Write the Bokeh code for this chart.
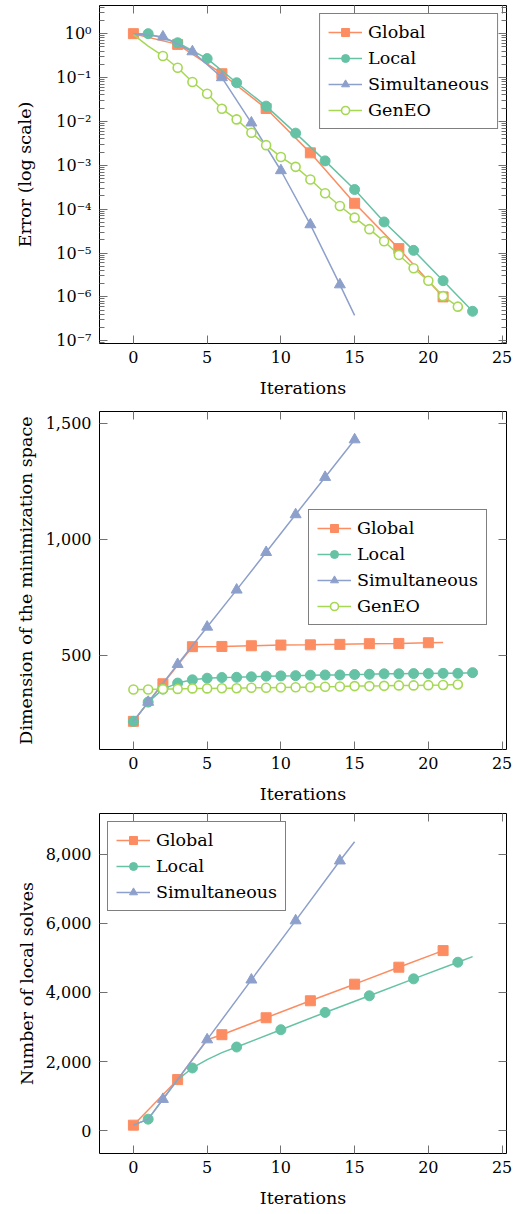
import math
from bokeh.plotting import figure
from bokeh.models import (LinearAxis, LogAxis, FixedTicker, CustomJSTickFormatter,
                          NumeralTickFormatter, Range1d, Legend, LegendItem)
from bokeh.layouts import column
from bokeh.embed import file_html
from bokeh.resources import INLINE

FONT = "DejaVu Serif"
TICK_FS = "16px"
LABEL_FS = "17.5px"
C_GLOBAL = "#fc8d62"
C_LOCAL = "#66c2a5"
C_SIM = "#8da0cb"
C_GENEO = "#a6d854"

# ---------------- Chart 1: error (log scale) ----------------
err_global_it = [0, 3, 6, 9, 12, 15, 18, 21]
err_global = [1.0, 0.57, 0.122, 0.0197, 1.92e-3, 1.36e-4, 1.26e-5, 1.0e-6]
err_global_marks = [0, 3, 6, 9, 12, 15, 18, 21]

err_local_it = [0, 1, 3, 5, 7, 9, 11, 13, 15, 17, 19, 21, 23]
err_local = [1.0, 1.0, 0.62, 0.27, 0.076, 0.0223, 5.4e-3, 1.26e-3, 2.8e-4,
             5.1e-5, 1.15e-5, 2.34e-6, 4.7e-7]
err_local_marks = [1, 3, 5, 7, 9, 11, 13, 15, 17, 19, 21, 23]

err_sim_it = [0, 2, 4, 6, 8, 10, 12, 14, 15]
err_sim = [1.0, 0.85, 0.39, 0.1, 9.3e-3, 7.6e-4, 4.45e-5, 1.9e-6, 3.8e-7]
err_sim_marks = [2, 4, 6, 8, 10, 12, 14]

err_geneo_it = list(range(0, 23))
err_geneo = [0.95, 0.52, 0.31, 0.167, 0.079, 0.0427, 0.0194, 0.0111, 5.5e-3,
             2.88e-3, 1.55e-3, 9.2e-4, 4.75e-4, 2.3e-4, 1.18e-4, 6.4e-5, 3.5e-5,
             1.85e-5, 9.0e-6, 4.5e-6, 2.33e-6, 1.04e-6, 6.0e-7]
err_geneo_marks = list(range(2, 23))

err_ticks = [1e-7, 1e-6, 1e-5, 1e-4, 1e-3, 1e-2, 1e-1, 1e0]

# ---------------- Chart 2: dimension of minimization space ----------------
dim_global_it = [0, 2, 4, 6, 8, 10, 12, 14, 16, 18, 20, 21]
dim_global = [214, 376, 536, 537, 540, 543, 544, 546, 549, 550, 553, 554]
dim_global_marks = [0, 2, 4, 6, 8, 10, 12, 14, 16, 18, 20]

dim_local_it = list(range(0, 24))
dim_local = [214, 297, 353, 379, 393, 400, 403, 404, 406, 409, 410, 411, 413,
             414, 414, 416, 417, 419, 419, 420, 420, 421, 421, 424]
dim_local_marks = list(range(0, 24))

dim_sim_it = [0, 1, 3, 5, 7, 9, 11, 13, 15]
dim_sim = [214, 297, 460, 621, 781, 943, 1106, 1267, 1429]
dim_sim_marks = [1, 3, 5, 7, 9, 11, 13, 15]

dim_geneo_it = list(range(0, 23))
dim_geneo = [351, 351, 353, 354, 356, 356, 357, 357, 359, 359, 360, 361, 361,
             363, 364, 366, 366, 367, 369, 369, 370, 371, 373]
dim_geneo_marks = list(range(0, 23))

dim_ticks = [500, 1000, 1500]

# ---------------- Chart 3: number of local solves ----------------
sol_global_it = [0, 3, 4, 5, 6, 9, 12, 15, 18, 21]
sol_global = [163, 1481, 2058, 2635, 2779, 3269, 3760, 4240, 4731, 5211]
sol_global_marks = [0, 3, 6, 9, 12, 15, 18, 21]

sol_local_it = [0, 1, 2, 3, 4, 5, 6, 7, 10, 13, 16, 19, 22, 23]
sol_local = [163, 337, 913, 1481, 1817, 2060, 2260, 2423, 2923, 3423, 3904,
             4394, 4875, 5038]
sol_local_marks = [1, 4, 7, 10, 13, 16, 19, 22]

sol_sim_it = [0, 1, 2, 5, 8, 11, 14, 15]
sol_sim = [163, 337, 913, 2635, 4365, 6077, 7808, 8356]
sol_sim_marks = [2, 5, 8, 11, 14]

sol_ticks = [0, 2000, 4000, 6000, 8000]

x_ticks = [0, 5, 10, 15, 20, 25]

SUPER_JS = """
const sup = {'0':'\\u2070','1':'\\u00b9','2':'\\u00b2','3':'\\u00b3','4':'\\u2074',
             '5':'\\u2075','6':'\\u2076','7':'\\u2077','8':'\\u2078','9':'\\u2079','-':'\\u207b'};
const e = Math.round(Math.log10(tick));
return '10' + String(e).split('').map(c => sup[c]).join('');
"""


def enlarged(vals, log=False):
    if log:
        vals = [math.log10(v) for v in vals]
    lo, hi = min(vals), max(vals)
    d = (hi - lo) * 0.1
    lo, hi = lo - d, hi + d
    if log:
        return Range1d(10 ** lo, 10 ** hi)
    return Range1d(lo, hi)


def style_axis(ax, hidden=False):
    ax.axis_line_color = None
    ax.major_tick_in = 8
    ax.major_tick_out = 0
    ax.minor_tick_in = 5
    ax.minor_tick_out = 0
    ax.major_tick_line_color = "#707070"
    ax.minor_tick_line_color = "#707070"
    ax.major_tick_line_width = 1
    ax.minor_tick_line_width = 1
    if hidden:
        ax.formatter = CustomJSTickFormatter(code="return '';")
        ax.major_label_text_font_size = "0px"
        ax.major_label_text_color = None
        ax.major_label_standoff = 0
        ax.axis_label = None
        ax.axis_label_standoff = 0
    else:
        ax.major_label_text_font = FONT
        ax.major_label_text_font_size = TICK_FS
        ax.major_label_text_color = "black"
        ax.axis_label_text_font = FONT
        ax.axis_label_text_font_size = LABEL_FS
        ax.axis_label_text_font_style = "normal"
        ax.axis_label_text_color = "black"


def make_fig(height, top, bottom, left, right, y_range, log, ylabel, yticks,
             yformatter, yminor=None, ylabel_standoff=7):
    all_x = err_local_it + err_geneo_it
    p = figure(width=512, height=height, output_backend="svg", toolbar_location=None,
               x_range=enlarged(all_x), y_range=y_range,
               y_axis_type="log" if log else "linear",
               min_border_top=top, min_border_bottom=bottom,
               min_border_left=left, min_border_right=right)
    p.xgrid.visible = False
    p.ygrid.visible = False
    p.outline_line_color = "black"
    p.outline_line_width = 1
    p.background_fill_color = "white"

    xa = p.xaxis[0]
    xa.ticker = FixedTicker(ticks=x_ticks)
    xa.axis_label = "Iterations"
    style_axis(xa)
    xa.major_label_standoff = 7
    xa.axis_label_standoff = 12

    ya = p.yaxis[0]
    ya.ticker = FixedTicker(ticks=yticks, minor_ticks=yminor or [])
    ya.formatter = yformatter
    ya.axis_label = ylabel
    style_axis(ya)
    ya.major_label_standoff = 8
    ya.axis_label_standoff = ylabel_standoff

    top_ax = LinearAxis(ticker=FixedTicker(ticks=x_ticks))
    style_axis(top_ax, hidden=True)
    p.add_layout(top_ax, "above")
    if log:
        r_ax = LogAxis(ticker=FixedTicker(ticks=yticks, minor_ticks=yminor or []))
    else:
        r_ax = LinearAxis(ticker=FixedTicker(ticks=yticks))
    style_axis(r_ax, hidden=True)
    p.add_layout(r_ax, "right")
    return p


def add_series(p, xs, ys, marks, color, marker, size, open_=False):
    ln = p.line(xs, ys, line_color=color, line_width=1.5)
    my = [ys[xs.index(m)] for m in marks]
    if open_:
        sc = p.scatter(marks, my, marker=marker, size=size, fill_color="white",
                       line_color=color, line_width=1.6)
    else:
        sc = p.scatter(marks, my, marker=marker, size=size, fill_color=color,
                       line_color=color, line_width=1)
    return [ln, sc]


def add_legend(p, items, location, margin=8):
    lg = Legend(items=[LegendItem(label=l, renderers=r) for l, r in items],
                location=location, margin=margin,
                border_line_color="black", border_line_width=1,
                background_fill_color="white", background_fill_alpha=1,
                padding=8, spacing=6, glyph_width=34, glyph_height=20,
                label_height=20, label_width=120, label_standoff=6,
                label_text_align="center",
                label_text_font=FONT, label_text_font_size=LABEL_FS,
                label_text_color="black")
    p.add_layout(lg)


# ---- figure 1 ----
minor_log = [k * 10 ** e for e in range(-8, 1) for k in range(2, 10)]
p1 = make_fig(405, 5, 62, 99, 4,
              enlarged(err_global + err_local + err_sim + err_geneo, log=True),
              True, "Error (log scale)", err_ticks,
              CustomJSTickFormatter(code=SUPER_JS), yminor=minor_log,
              ylabel_standoff=18)
r_g = add_series(p1, err_global_it, err_global, err_global_marks, C_GLOBAL, "square", 10)
r_l = add_series(p1, err_local_it, err_local, err_local_marks, C_LOCAL, "circle", 10)
r_s = add_series(p1, err_sim_it, err_sim, err_sim_marks, C_SIM, "triangle", 11)
r_e = add_series(p1, err_geneo_it, err_geneo, err_geneo_marks, C_GENEO, "circle", 9, open_=True)
add_legend(p1, [("Global", r_g), ("Local", r_l), ("Simultaneous", r_s), ("GenEO", r_e)],
           "top_right", margin=8)

# ---- figure 2 ----
p2 = make_fig(403, 6, 59, 98, 5,
              enlarged(dim_global + dim_local + dim_sim + dim_geneo),
              False, "Dimension of the minimization space", dim_ticks,
              NumeralTickFormatter(format="0,0"), ylabel_standoff=7)
r_g = add_series(p2, dim_global_it, dim_global, dim_global_marks, C_GLOBAL, "square", 10)
r_l = add_series(p2, dim_local_it, dim_local, dim_local_marks, C_LOCAL, "circle", 10)
r_s = add_series(p2, dim_sim_it, dim_sim, dim_sim_marks, C_SIM, "triangle", 11)
r_e = add_series(p2, dim_geneo_it, dim_geneo, dim_geneo_marks, C_GENEO, "circle", 9, open_=True)
add_legend(p2, [("Global", r_g), ("Local", r_l), ("Simultaneous", r_s), ("GenEO", r_e)],
           (209, 124))

# ---- figure 3 ----
p3 = make_fig(404, 5, 59, 97, 6,
              enlarged(sol_global + sol_local + sol_sim),
              False, "Number of local solves", sol_ticks,
              NumeralTickFormatter(format="0,0"), ylabel_standoff=6)
r_g = add_series(p3, sol_global_it, sol_global, sol_global_marks, C_GLOBAL, "square", 10)
r_l = add_series(p3, sol_local_it, sol_local, sol_local_marks, C_LOCAL, "circle", 10)
r_s = add_series(p3, sol_sim_it, sol_sim, sol_sim_marks, C_SIM, "triangle", 11)
add_legend(p3, [("Global", r_g), ("Local", r_l), ("Simultaneous", r_s)],
           "top_left", margin=8)

layout = column(p1, p2, p3, spacing=0)
with open("out.html", "w", encoding="utf-8") as f:
    f.write(file_html(layout, INLINE))
